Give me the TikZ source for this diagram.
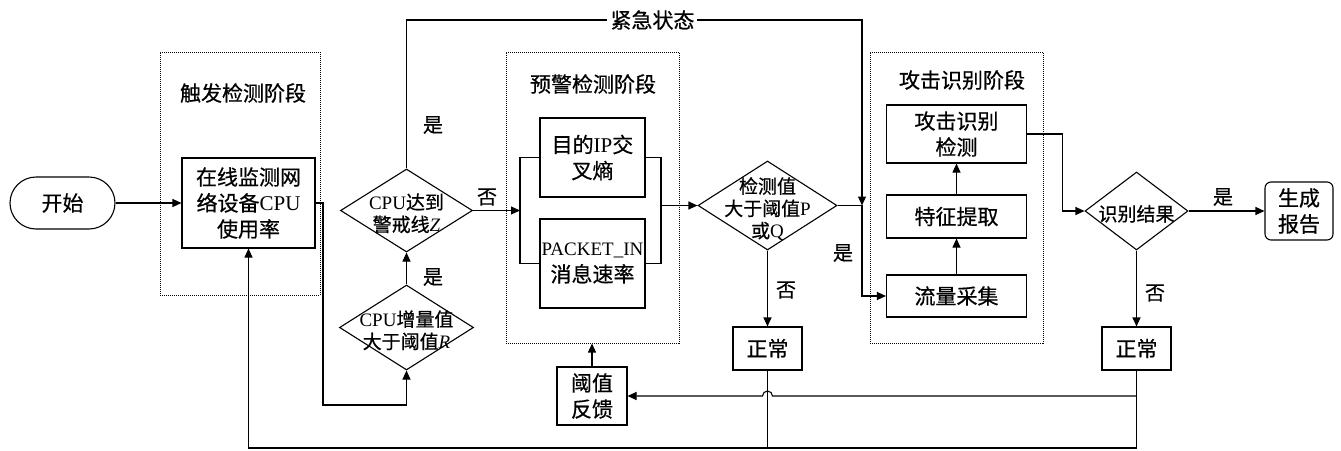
\documentclass[tikz,border=0pt]{standalone}
\usepackage{fontspec}
\setmainfont{Liberation Serif}
\newfontfamily\cjk[FakeBold=0.6]{Noto Sans CJK SC}
\usetikzlibrary{arrows.meta,shapes.geometric}
\newcommand{\la}[1]{{\rmfamily #1}}
\newcommand{\dtext}[1]{\smash{\makebox[0pt]{\raisebox{-0.5em}{\begin{tabular}{@{}c@{}}#1\end{tabular}}}}}
\begin{document}
\begin{tikzpicture}[x=1pt,y=-1pt, line width=1.1pt, font=\cjk\fontsize{21}{26}\selectfont,
  box/.style={draw, rectangle, inner sep=0pt, align=center},
  dia/.style={draw, diamond, inner sep=0pt, font=\cjk\fontsize{19}{21}\selectfont},
  stage/.style={draw, densely dotted, line width=1pt, rectangle, inner sep=0pt},
  lbl/.style={font=\cjk\fontsize{20}{24}\selectfont, inner sep=1pt},
  arr/.style={-{Triangle[length=9pt,width=8pt]}}]
\useasboundingbox (0,0) rectangle (1341,450);
% stage frames
\node[stage, minimum width=160, minimum height=243] (s1) at (240,173.5) {};
\node[stage, minimum width=173, minimum height=291] (s2) at (592.5,197.5) {};
\node[stage, minimum width=173, minimum height=291] (s3) at (956.5,197.5) {};
\node (t1) at (243,93) {触发检测阶段};
\node (t2) at (593,84) {预警检测阶段};
\node (t3) at (962,80) {攻击识别阶段};
% nodes
\node[box, rounded corners=26, minimum width=105, minimum height=52] (start) at (62.5,203) {开始};
\node[box, minimum width=133, minimum height=90] (b1) at (248.5,203) {在线监测网\\络设备\la{CPU}\\使用率};
\node[dia, minimum width=132, minimum height=83] (d1) at (406.5,210.5) {\dtext{\la{CPU}达到\\警戒线\la{\textit{Z}}}};
\node[dia, minimum width=134, minimum height=85] (d2) at (406.5,327.5) {\dtext{\la{CPU}增量值\\大于阈值\la{\textit{R}}}};
\node[box, minimum width=105, minimum height=79] (p1) at (592.5,157.5) {目的\la{IP}交\\叉熵};
\node[box, minimum width=105, minimum height=89] (p2) at (592.5,263.5) {{\rmfamily\fontsize{19}{26}\selectfont PACKET\_IN}\\消息速率};
\node[dia, minimum width=139, minimum height=89] (d3) at (767.5,205.5) {\dtext{检测值\\大于阈值\la{P}\\或\la{Q}}};
\node[box, minimum width=69, minimum height=43] (n1) at (767.5,348.5) {正常};
\node[box, minimum width=70, minimum height=58] (fb) at (592,396) {阈值\\反馈};
\node[box, minimum width=140, minimum height=58] (a1) at (956.5,134) {攻击识别\\检测};
\node[box, minimum width=140, minimum height=43] (a2) at (956.5,216.5) {特征提取};
\node[box, minimum width=140, minimum height=42] (a3) at (956.5,296) {流量采集};
\node[dia, minimum width=103, minimum height=78] (d4) at (1136.5,211) {\dtext{识别结果}};
\node[box, rounded corners=6, minimum width=68, minimum height=58] (rep) at (1299,211) {生成\\报告};
\node[box, minimum width=69, minimum height=43] (n2) at (1136.5,348.5) {正常};
% coordinates
\coordinate (k) at (323,405);
\coordinate (lb) at (520,210.5);
\coordinate (rb) at (661,205.5);
\coordinate (jy) at (862,205.5);
\coordinate (top1) at (406.5,20);
\coordinate (top2) at (862,20);
\coordinate (j2) at (1136.5,396);
\coordinate (j3) at (1136.5,448);
\coordinate (hop) at (767.5,396);
% connectors
\draw[arr] (start) -- (b1);
\draw[arr] (b1.east) -| (k) -| (d2.south);
\draw[arr] (d2) -- (d1);
\draw[arr] (d1.east) -- (lb);
\draw (p1.west) -| (lb) |- (p2.west);
\draw (p1.east) -| (rb) |- (p2.east);
\draw[arr] (rb) -- (d3.west);
\draw[arr] (d1.north) -- (top1) -- node[pos=0.54, fill=white, inner xsep=3pt, inner ysep=1pt]{紧急状态} (top2) -- (jy);
\draw[arr] (d3.east) -- (jy) |- (a3.west);
\draw[arr] (a3) -- (a2);
\draw[arr] (a2) -- (a1);
\draw[arr] (a1.east) -- ++(35,0) |- (d4.west);
\draw[arr] (d4) -- (rep);
\draw[arr] (d3) -- (n1);
\draw[arr] (d4) -- (n2);
\draw[arr] (fb.north) -- (fb.north |- s2.south);
\draw[arr] (n2.south) -- (j3) -| (b1.south);
\draw[arr] (j2) -- ([xshift=5pt]hop) arc (0:-180:5) -- (fb.east);
\draw (n1.south) -- (n1.south |- j3);
% labels
\node[lbl] (l1) at (433,125) {是};
\node[lbl] (l2) at (433,277) {是};
\node[lbl] (l3) at (487,197) {否};
\node[lbl] (l4) at (843,253) {是};
\node[lbl] (l5) at (786,290) {否};
\node[lbl] (l6) at (1223,197) {是};
\node[lbl] (l7) at (1155,293) {否};
\end{tikzpicture}
\end{document}
